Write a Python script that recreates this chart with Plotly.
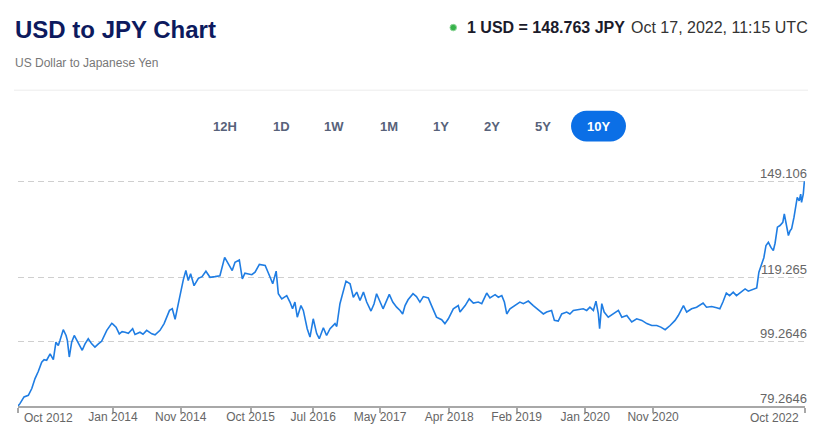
import plotly.graph_objects as go

# ---------------- data ----------------
dates = [
    "2012-10-17", "2012-10-26", "2012-11-14", "2012-12-04", "2012-12-20",
    "2013-01-04", "2013-01-19", "2013-02-04", "2013-02-15", "2013-02-27",
    "2013-03-15", "2013-03-30", "2013-04-11", "2013-04-22", "2013-04-30",
    "2013-05-15", "2013-05-28", "2013-06-03", "2013-06-12", "2013-06-23",
    "2013-07-05", "2013-07-21", "2013-08-04", "2013-08-11", "2013-08-24",
    "2013-09-08", "2013-09-24", "2013-10-09", "2013-10-25", "2013-11-09",
    "2013-12-03", "2013-12-26", "2013-12-30", "2014-01-15", "2014-01-30",
    "2014-02-12", "2014-02-26", "2014-03-13", "2014-04-02", "2014-04-13",
    "2014-05-06", "2014-05-20", "2014-06-06", "2014-06-30", "2014-07-15",
    "2014-08-07", "2014-08-26", "2014-09-20", "2014-10-03", "2014-10-16",
    "2014-10-31", "2014-11-11", "2014-11-23", "2014-12-05", "2014-12-16",
    "2014-12-27", "2015-01-12", "2015-02-01", "2015-02-18", "2015-03-08",
    "2015-03-27", "2015-04-19", "2015-05-12", "2015-06-03", "2015-06-20",
    "2015-07-08", "2015-07-21", "2015-08-10", "2015-08-24", "2015-09-05",
    "2015-10-07", "2015-10-22", "2015-11-11", "2015-12-08", "2015-12-31",
    "2016-01-12", "2016-01-28", "2016-02-07", "2016-02-23", "2016-03-17",
    "2016-04-01", "2016-04-13", "2016-04-24", "2016-05-05", "2016-05-22",
    "2016-06-02", "2016-06-20", "2016-07-03", "2016-07-18", "2016-08-03",
    "2016-08-15", "2016-09-03", "2016-09-18", "2016-10-04", "2016-10-27",
    "2016-11-04", "2016-11-19", "2016-12-02", "2016-12-17", "2017-01-05",
    "2017-01-20", "2017-02-05", "2017-02-20", "2017-03-08", "2017-03-23",
    "2017-04-12", "2017-04-26", "2017-05-08", "2017-05-23", "2017-06-07",
    "2017-07-06", "2017-07-22", "2017-08-09", "2017-08-25", "2017-09-06",
    "2017-09-17", "2017-10-01", "2017-10-24", "2017-11-09", "2017-11-25",
    "2017-12-11", "2018-01-03", "2018-01-18", "2018-02-10", "2018-03-06",
    "2018-03-21", "2018-04-06", "2018-04-29", "2018-05-22", "2018-05-30",
    "2018-06-23", "2018-07-12", "2018-07-31", "2018-08-23", "2018-09-08",
    "2018-10-01", "2018-10-16", "2018-11-09", "2018-11-24", "2018-12-10",
    "2018-12-22", "2019-01-02", "2019-01-17", "2019-02-09", "2019-03-04",
    "2019-03-20", "2019-04-12", "2019-05-05", "2019-05-21", "2019-06-05",
    "2019-06-21", "2019-07-06", "2019-07-29", "2019-08-11", "2019-08-29",
    "2019-09-14", "2019-10-07", "2019-10-22", "2019-11-07", "2019-11-30",
    "2019-12-23", "2020-01-08", "2020-01-23", "2020-02-08", "2020-02-20",
    "2020-03-02", "2020-03-08", "2020-03-18", "2020-03-29", "2020-04-17",
    "2020-05-11", "2020-06-03", "2020-06-19", "2020-07-12", "2020-08-04",
    "2020-08-27", "2020-09-20", "2020-10-13", "2020-11-05", "2020-11-28",
    "2020-12-17", "2021-01-06", "2021-01-29", "2021-02-21", "2021-03-08",
    "2021-04-01", "2021-04-16", "2021-05-09", "2021-06-01", "2021-07-01",
    "2021-07-17", "2021-08-10", "2021-09-02", "2021-09-17", "2021-10-01",
    "2021-10-17", "2021-11-01", "2021-11-18", "2021-12-03", "2021-12-26",
    "2022-01-12", "2022-01-27", "2022-02-19", "2022-03-07", "2022-03-17",
    "2022-03-29", "2022-04-09", "2022-04-19", "2022-04-30", "2022-05-12",
    "2022-05-23", "2022-05-31", "2022-06-11", "2022-06-23", "2022-07-06",
    "2022-07-13", "2022-07-21", "2022-08-01", "2022-08-09", "2022-08-16",
    "2022-08-27", "2022-09-05", "2022-09-11", "2022-09-20", "2022-09-27",
    "2022-10-01", "2022-10-09", "2022-10-14", "2022-10-17",
]
rates = [
    79.26, 80.0, 82.1, 82.6, 84.7,
    87.8, 90.0, 92.9, 93.7, 93.5,
    95.5, 93.7, 99.1, 98.1, 99.7,
    103.0, 101.2, 99.7, 94.5, 99.1,
    101.2, 99.1, 97.6, 96.6, 98.6,
    100.2, 98.6, 97.6, 98.6, 99.4,
    102.8, 105.0, 104.8, 103.8, 101.7,
    102.4, 102.2, 101.9, 103.3, 101.5,
    102.2, 101.6, 102.8, 101.7, 101.4,
    102.8, 104.9, 109.0, 109.5, 106.2,
    111.1, 115.2, 118.5, 121.4, 118.3,
    120.4, 116.7, 119.0, 119.5, 121.2,
    119.3, 119.5, 119.8, 125.5, 123.5,
    121.4, 124.0, 124.7, 118.8, 120.6,
    120.1, 120.9, 123.3, 123.0, 119.3,
    117.3, 121.2, 114.2, 112.6, 113.6,
    111.6, 109.5, 111.6, 106.9, 110.5,
    109.0, 103.3, 100.7, 106.4, 101.8,
    100.2, 103.6, 101.2, 103.3, 104.9,
    104.0, 111.1, 114.2, 118.1, 117.3,
    113.1, 114.7, 112.1, 114.7, 111.6,
    108.8, 111.0, 114.2, 111.6, 109.5,
    114.0, 111.6, 110.0, 109.0, 107.9,
    110.5, 112.3, 114.2, 113.3, 111.6,
    113.3, 112.9, 110.5, 106.9, 106.1,
    104.9, 106.4, 109.5, 110.5, 108.5,
    110.5, 112.6, 111.3, 111.6, 111.1,
    114.4, 112.9, 113.9, 113.1, 113.6,
    111.6, 107.9, 109.5, 110.5, 111.6,
    111.1, 111.9, 110.5, 109.5, 108.8,
    107.9, 108.5, 109.0, 105.9, 105.7,
    107.9, 108.5, 107.9, 109.0, 109.2,
    109.5, 109.0, 110.0, 109.0, 111.9,
    107.9, 103.3, 111.1, 108.5, 106.9,
    107.9, 109.0, 106.9, 107.4, 105.4,
    106.4, 105.9, 104.9, 104.3, 104.3,
    103.8, 103.0, 104.3, 105.9, 107.4,
    110.5, 108.5, 109.5, 110.0, 111.3,
    110.0, 110.2, 109.8, 109.5, 111.6,
    114.4, 113.6, 114.7, 113.6, 114.7,
    115.7, 115.0, 115.7, 116.0, 120.9,
    123.0, 125.4, 129.2, 130.2, 128.6,
    127.6, 129.9, 134.9, 135.4, 136.4,
    139.0, 135.9, 132.3, 133.8, 134.4,
    138.0, 142.1, 144.2, 143.1, 145.2,
    142.6, 145.2, 149.106, 148.763,
]

x_range = ["2012-10-17", "2022-10-17"]
tick_dates = ["2012-10-17", "2014-01-01", "2014-11-11", "2015-10-01", "2016-07-18",
              "2017-05-24", "2018-04-10", "2019-02-17", "2020-01-01", "2020-11-11",
              "2022-10-17"]
tick_labels = ["Oct 2012", "Jan 2014", "Nov 2014", "Oct 2015", "Jul 2016",
               "May 2017", "Apr 2018", "Feb 2019", "Jan 2020", "Nov 2020",
               "Oct 2022"]
y_ticks = [79.2646, 99.2646, 119.2646, 149.106]
y_labels = ["79.2646", "99.2646", "119.265", "149.106"]

title = "USD to JPY Chart"
subtitle = "US Dollar to Japanese Yen"
quote = "1 USD = 148.763 JPY"
stamp = "Oct 17, 2022, 11:15 UTC"
periods = ["12H", "1D", "1W", "1M", "1Y", "2Y", "5Y", "10Y"]
active_period = "10Y"

# ---------------- layout geometry (window pixels) ----------------
# The page puts the figure 8px from the window corner (default body margin);
# the figure is sized so the page never overflows the 821x432 window.
OFF = 8
W, H = 821 - 2 * OFF, 432 - 2 * OFF
GRID_TOP, PLOT_B = 181, 406          # where the top gridline and the x axis sit
PLOT_L, PLOT_R = 18, 805
HEAD = 1.5                           # px of headroom above the top gridline
PLOT_T = GRID_TOP - HEAD
units_per_px = (y_ticks[-1] - y_ticks[0]) / (PLOT_B - GRID_TOP)
y_range = [y_ticks[0], y_ticks[-1] + HEAD * units_per_px]

ML = PLOT_L - OFF
MT = PLOT_T - OFF
MR = W - (PLOT_R - OFF)
MB = H - (PLOT_B - OFF)
PW, PH = PLOT_R - PLOT_L, PLOT_B - PLOT_T
FONT = "Liberation Sans, Arial, sans-serif"
BLUE = "#0b6fe6"
LINE_BLUE = "#1f7de3"


def px(x):
    """window x pixel -> paper x"""
    return (x - PLOT_L) / PW


def py(y):
    """window y pixel -> paper y"""
    return (PLOT_B - y) / PH


fig = go.Figure()
fig.add_trace(go.Scatter(
    x=dates, y=rates, mode="lines",
    line=dict(color=LINE_BLUE, width=1.6),
    hoverinfo="x+y", showlegend=False,
))

shown_ticks = [""] + tick_labels[1:-1] + [""]

fig.update_layout(
    width=W, height=H, autosize=False,
    margin=dict(l=ML, r=MR, t=MT, b=MB, pad=0, autoexpand=False),
    paper_bgcolor="white", plot_bgcolor="white",
    font=dict(family=FONT, color="#666666"),
    xaxis=dict(
        type="date", range=x_range, automargin=False,
        tickvals=tick_dates, ticktext=shown_ticks,
        showgrid=False, zeroline=False,
        showline=True, linecolor="#a8a8a8", linewidth=2,
        ticks="outside", ticklen=5, tickwidth=1.5, tickcolor="#a8a8a8",
        ticklabelstandoff=-6,
        tickfont=dict(size=12, color="#666666", family=FONT),
        fixedrange=True,
    ),
    yaxis=dict(
        side="right", range=y_range, automargin=False,
        tickvals=y_ticks, ticktext=y_labels,
        ticklabelposition="inside", ticklabelshift=-8, ticklabelstandoff=-5,
        ticklabeloverflow="allow",
        showgrid=True, gridcolor="#cfcfcf", griddash="6px,4px", gridwidth=1,
        zeroline=False, showline=False, ticks="",
        tickfont=dict(size=13, color="#666666", family=FONT),
        fixedrange=True,
    ),
)

ann = []
# first / last x tick labels kept inside the chart like the reference
ann.append(dict(x=px(22), y=py(418), xref="paper", yref="paper", text=tick_labels[0],
                xanchor="left", yanchor="middle", showarrow=False,
                font=dict(size=12, color="#666666", family=FONT)))
ann.append(dict(x=px(801), y=py(418), xref="paper", yref="paper", text=tick_labels[-1],
                xanchor="right", yanchor="middle", showarrow=False,
                font=dict(size=12, color="#666666", family=FONT)))

# header
ann.append(dict(x=px(13), y=py(29), xref="paper", yref="paper", text="<b>" + title + "</b>",
                xanchor="left", yanchor="middle", showarrow=False,
                font=dict(size=24, color="#0d1a5e", family=FONT)))
ann.append(dict(x=px(13), y=py(62), xref="paper", yref="paper", text=subtitle,
                xanchor="left", yanchor="middle", showarrow=False,
                font=dict(size=12, color="#777777", family=FONT)))
ann.append(dict(x=px(465), y=py(27), xref="paper", yref="paper", text="<b>" + quote + "</b>",
                xanchor="left", yanchor="middle", showarrow=False,
                font=dict(size=16, color="#1b1b2b", family=FONT)))
ann.append(dict(x=px(810), y=py(27), xref="paper", yref="paper", text=stamp,
                xanchor="right", yanchor="middle", showarrow=False,
                font=dict(size=16, color="#333333", family=FONT)))

# period selector
centers = [225, 281, 334, 389, 441, 492, 543, 598]
for label, cx in zip(periods, centers):
    active = label == active_period
    ann.append(dict(x=px(cx), y=py(125.5), xref="paper", yref="paper",
                    text="<b>" + label + "</b>", xanchor="center", yanchor="middle",
                    showarrow=False,
                    font=dict(size=13, color="white" if active else "#58627a", family=FONT)))

shapes = []
# separator line
shapes.append(dict(type="line", xref="paper", yref="paper",
                   x0=px(14), x1=px(808), y0=py(89.5), y1=py(89.5),
                   line=dict(color="#ececec", width=1)))
# live dot
shapes.append(dict(type="circle", xref="paper", yref="paper",
                   x0=px(450), x1=px(456.5), y0=py(23.5), y1=py(30),
                   fillcolor="#36b24a", line=dict(color="#8fd69a", width=1)))

# active pill
l, r, t, b = 571, 626, 110, 141
rad = (b - t) / 2
k = 0.5523 * rad


def P(x, y):
    return f"{px(x):.5f},{py(y):.5f}"


path = (f"M {P(l + rad, t)} L {P(r - rad, t)} "
        f"C {P(r - rad + k, t)} {P(r, t + rad - k)} {P(r, t + rad)} "
        f"C {P(r, t + rad + k)} {P(r - rad + k, b)} {P(r - rad, b)} "
        f"L {P(l + rad, b)} "
        f"C {P(l + rad - k, b)} {P(l, b - rad + k)} {P(l, b - rad)} "
        f"C {P(l, b - rad - k)} {P(l + rad - k, t)} {P(l + rad, t)} Z")
shapes.append(dict(type="path", xref="paper", yref="paper", path=path,
                   fillcolor=BLUE, line=dict(width=0), layer="below"))

fig.update_layout(annotations=ann, shapes=shapes)

fig.write_html("out.html", config={"displayModeBar": False})
